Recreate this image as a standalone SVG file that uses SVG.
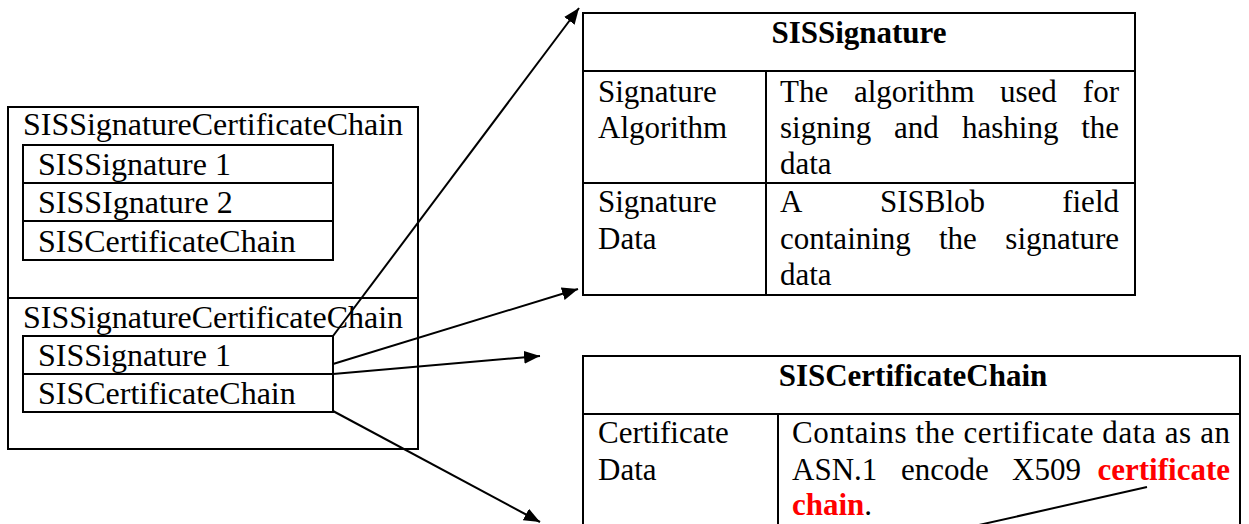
<svg xmlns="http://www.w3.org/2000/svg" width="1249" height="524" viewBox="0 0 1249 524">
  <style>
    .box { fill: none; stroke: #000; stroke-width: 2; }
    .rule { stroke: #000; stroke-width: 2; }
    .t { font-family: "Liberation Serif", "Times New Roman", serif; font-size: 32px; fill: #000; }
    .r { font-family: "Liberation Serif", "Times New Roman", serif; font-size: 31px; fill: #000; }
    .h { font-weight: bold; text-anchor: middle; }
    .em { font-weight: bold; fill: #ff0000; }
    .end { text-anchor: end; }
    .link { stroke: #000; stroke-width: 2; fill: none; }
  </style>
  <defs>
    <marker id="arrow" markerUnits="userSpaceOnUse" markerWidth="18" markerHeight="14" refX="16" refY="6.5" orient="auto">
      <path d="M0,0 L16,6.5 L0,13 z" fill="#000"/>
    </marker>
  </defs>

  <rect width="1249" height="524" fill="#fff"/>

  <!-- Container holding two signature/certificate chains -->
  <g id="chain-list">
    <rect class="box" x="8" y="107" width="410" height="342"/>
    <line class="rule" x1="8" y1="298" x2="418" y2="298"/>
  </g>

  <g id="chain-1">
    <text class="t" x="23" y="135" textLength="380" lengthAdjust="spacingAndGlyphs">SISSignatureCertificateChain</text>
    <rect class="box" x="23" y="145" width="310" height="115"/>
    <line class="rule" x1="23" y1="183" x2="333" y2="183"/>
    <line class="rule" x1="23" y1="221" x2="333" y2="221"/>
    <text class="t" x="38" y="175">SISSignature 1</text>
    <text class="t" x="38" y="213">SISSIgnature 2</text>
    <text class="t" x="38" y="252">SISCertificateChain</text>
  </g>

  <g id="chain-2">
    <text class="t" x="23" y="328" textLength="380" lengthAdjust="spacingAndGlyphs">SISSignatureCertificateChain</text>
    <rect class="box" x="23" y="336" width="310" height="76"/>
    <line class="rule" x1="23" y1="374" x2="333" y2="374"/>
    <text class="t" x="38" y="366">SISSignature 1</text>
    <text class="t" x="38" y="404">SISCertificateChain</text>
  </g>

  <!-- SISSignature structure -->
  <g id="sis-signature">
    <rect class="box" x="583" y="13" width="552" height="282"/>
    <line class="rule" x1="583" y1="71" x2="1135" y2="71"/>
    <line class="rule" x1="583" y1="183" x2="1135" y2="183"/>
    <line class="rule" x1="766" y1="71" x2="766" y2="295"/>
    <text class="r h" x="859" y="43">SISSignature</text>
    <text class="r" x="598" y="102">Signature</text>
    <text class="r" x="598" y="138">Algorithm</text>
    <!-- justified cell text: words placed one by one -->
    <text class="r" y="102"><tspan x="780">The</tspan><tspan x="854">algorithm</tspan><tspan x="1000">used</tspan></text>
    <text class="r end" x="1119" y="102">for</text>
    <text class="r" y="138"><tspan x="780">signing</tspan><tspan x="894">and</tspan><tspan x="962">hashing</tspan></text>
    <text class="r end" x="1119" y="138">the</text>
    <text class="r" x="780" y="174">data</text>
    <text class="r" x="598" y="212">Signature</text>
    <text class="r" x="598" y="249">Data</text>
    <text class="r" y="212"><tspan x="780">A</tspan><tspan x="880">SISBlob</tspan></text>
    <text class="r end" x="1119" y="212">field</text>
    <text class="r" y="249"><tspan x="780">containing</tspan><tspan x="939">the</tspan></text>
    <text class="r end" x="1119" y="249">signature</text>
    <text class="r" x="780" y="285">data</text>
  </g>

  <!-- SISCertificateChain structure (continues below the page edge) -->
  <g id="sis-certificate-chain">
    <rect class="box" x="583" y="356" width="657" height="200"/>
    <line class="rule" x1="583" y1="414" x2="1240" y2="414"/>
    <line class="rule" x1="778" y1="414" x2="778" y2="556"/>
    <text class="r h" x="913" y="386">SISCertificateChain</text>
    <text class="r" x="598" y="443">Certificate</text>
    <text class="r" x="598" y="480">Data</text>
    <text class="r" x="792" y="443" textLength="438" lengthAdjust="spacing">Contains the certificate data as an</text>
    <text class="r" y="480"><tspan x="792">ASN.1</tspan><tspan x="901">encode</tspan><tspan x="1012">X509</tspan></text>
    <text class="r em end" x="1230" y="480">certificate</text>
    <text class="r" x="792" y="515"><tspan class="em">chain</tspan>.</text>
  </g>

  <!-- Connectors -->
  <g id="connectors">
    <line class="link" x1="333" y1="336" x2="579" y2="8" marker-end="url(#arrow)"/>
    <line class="link" x1="333" y1="364" x2="578" y2="289" marker-end="url(#arrow)"/>
    <line class="link" x1="333" y1="374" x2="540" y2="356" marker-end="url(#arrow)"/>
    <line class="link" x1="333" y1="411" x2="540" y2="522" marker-end="url(#arrow)"/>
    <line class="link" x1="1147" y1="487" x2="970" y2="527"/>
  </g>
</svg>
